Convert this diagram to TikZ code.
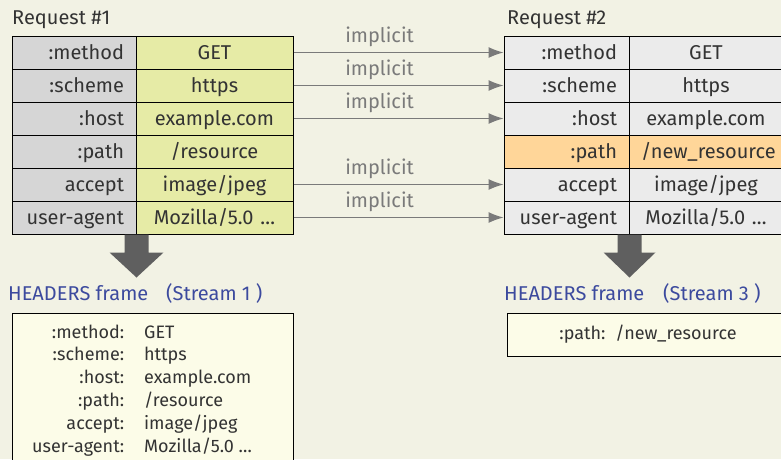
\documentclass[tikz,border=0pt]{standalone}
\usepackage{fontspec}
\setmainfont{Fira Sans}
\usetikzlibrary{arrows.meta}

\definecolor{bgcream}{HTML}{F2F2E4}
\definecolor{keygray}{HTML}{D6D6D6}
\definecolor{valgreen}{HTML}{E6EBA6}
\definecolor{cellgray}{HTML}{EBEBEB}
\definecolor{pathorange}{HTML}{FFD699}
\definecolor{framefill}{HTML}{FCFCE8}
\definecolor{framblue}{HTML}{3C4A9E}
\definecolor{textdark}{HTML}{333333}
\definecolor{implgray}{HTML}{7A7A7A}
\definecolor{bigarrowgray}{HTML}{5F5F5F}

\tikzset{
  keycell/.style={draw=black, line width=1pt, fill=keygray, minimum height=33pt,
    text width=100pt, inner xsep=12pt, inner ysep=0pt, align=right, text=textdark,
    text height=15pt, text depth=2pt},
  valcell/.style={draw=black, line width=1pt, fill=valgreen, minimum height=33pt,
    text width=133pt, inner xsep=12pt, inner ysep=0pt, align=center, text=textdark,
    text height=15pt, text depth=2pt},
  implarrow/.style={draw=implgray, line width=1.2pt, -{Latex[length=15pt,width=11pt]}},
  impllabel/.style={text=implgray, above, inner sep=5pt},
  bigarrow/.style={fill=bigarrowgray},
  bluelabel/.style={text=framblue, anchor=west, inner sep=0pt},
  framebox/.style={draw=black, line width=1pt, fill=framefill, text=textdark,
    font=\fontsize{18}{22.8}\selectfont}
}

\begin{document}
\begin{tikzpicture}[x=1pt,y=-1pt, font=\fontsize{20}{24}\selectfont]
    \fill[bgcream] (0,0) rectangle (781,459);
    \useasboundingbox (0,0) rectangle (781,459);

    % request 1
    \node[anchor=west, inner sep=0pt, text=textdark] (req1) at (12,20) {Request \#1};
    \node[keycell] (a1) at (74,52.5) {:method};
    \node[valcell] (b1) at (214.5,52.5) {GET};
    \node[keycell] (a2) at (74,85.5) {:scheme};
    \node[valcell] (b2) at (214.5,85.5) {https};
    \node[keycell] (a3) at (74,118.5) {:host};
    \node[valcell] (b3) at (214.5,118.5) {example.com};
    \node[keycell] (a4) at (74,151.5) {:path};
    \node[valcell] (b4) at (214.5,151.5) {/resource};
    \node[keycell] (a5) at (74,184.5) {accept};
    \node[valcell] (b5) at (214.5,184.5) {image/jpeg};
    \node[keycell] (a6) at (74,217.5) {user-agent};
    \node[valcell] (b6) at (214.5,217.5) {Mozilla/5.0 \dots};

    % request 2
    \node[anchor=west, inner sep=0pt, text=textdark] (req2) at (507,20) {Request \#2};
    \node[keycell, fill=cellgray, text width=101pt] (c1) at (566.5,52.5) {:method};
    \node[valcell, fill=cellgray, text width=130pt] (d1) at (706,52.5) {GET};
    \node[keycell, fill=cellgray, text width=101pt] (c2) at (566.5,85.5) {:scheme};
    \node[valcell, fill=cellgray, text width=130pt] (d2) at (706,85.5) {https};
    \node[keycell, fill=cellgray, text width=101pt] (c3) at (566.5,118.5) {:host};
    \node[valcell, fill=cellgray, text width=130pt] (d3) at (706,118.5) {example.com};
    \node[keycell, fill=pathorange, text width=101pt] (c4) at (566.5,151.5) {:path};
    \node[valcell, fill=pathorange, text width=130pt] (d4) at (706,151.5) {/new\_resource};
    \node[keycell, fill=cellgray, text width=101pt] (c5) at (566.5,184.5) {accept};
    \node[valcell, fill=cellgray, text width=130pt] (d5) at (706,184.5) {image/jpeg};
    \node[keycell, fill=cellgray, text width=101pt] (c6) at (566.5,217.5) {user-agent};
    \node[valcell, fill=cellgray, text width=130pt] (d6) at (706,217.5) {Mozilla/5.0 \dots};

    % implicit
    \draw[implarrow] (b1.east) -- (c1.west) node[impllabel, pos=0.41]{implicit};
    \draw[implarrow] (b2.east) -- (c2.west) node[impllabel, pos=0.41]{implicit};
    \draw[implarrow] (b3.east) -- (c3.west) node[impllabel, pos=0.41]{implicit};
    \draw[implarrow] (b5.east) -- (c5.west) node[impllabel, pos=0.41]{implicit};
    \draw[implarrow] (b6.east) -- (c6.west) node[impllabel, pos=0.41]{implicit};

    % down arrows
    \fill[bigarrow] (a6.south east) ++(-12,0) -- ++(24,0) -- ++(0,18) -- ++(15,0)
        -- ++(-27,25) -- ++(-27,-25) -- ++(15,0) -- cycle;
    \fill[bigarrow] (c6.south east) ++(-12,0) -- ++(24,0) -- ++(0,18) -- ++(14,0)
        -- ++(-26,25) -- ++(-26,-25) -- ++(14,0) -- cycle;

    % frames
    \node[bluelabel] (h1) at (8,293) {HEADERS frame};
    \node[bluelabel] (s1) at (166,293) {(Stream 1 )};
    \node[bluelabel] (h2) at (504,293) {HEADERS frame};
    \node[bluelabel] (s2) at (663,293) {(Stream 3 )};

    \node[framebox, anchor=north west, minimum width=281pt, minimum height=170pt] (f1) at (12,313) {};
    \node[anchor=north west, inner sep=0pt, text=textdark, font=\fontsize{18}{22.8}\selectfont] (t1) at (32,322)
        {\begin{tabular}{@{}r@{\hspace{20pt}}l@{}}
          :method: & GET\\
          :scheme: & https\\
          :host: & example.com\\
          :path: & /resource\\
          accept: & image/jpeg\\
          user-agent: & Mozilla/5.0 \dots
        \end{tabular}};
    \node[framebox, minimum width=282pt, minimum height=43pt] (f2) at (648,334.5) {:path:\hspace{10pt}/new\_resource};
\end{tikzpicture}
\end{document}
